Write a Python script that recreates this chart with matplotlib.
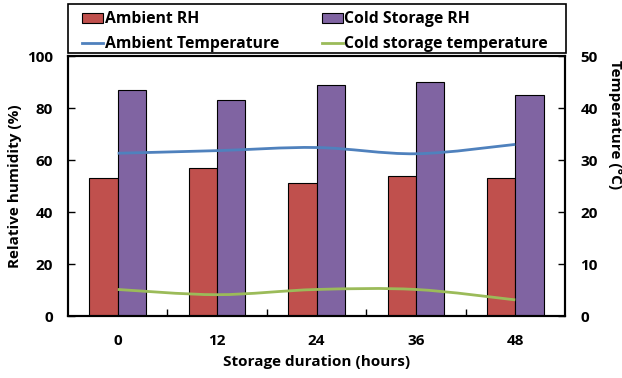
import matplotlib.pyplot as plt
import numpy as np
from matplotlib.path import Path
from matplotlib.patches import PathPatch, Rectangle
from matplotlib.lines import Line2D

plt.rcParams['font.family'] = ['Open Sans', 'DejaVu Sans']
plt.rcParams['font.weight'] = 'bold'

# storage data
hours = ['0', '12', '24', '36', '48']
ambient_rh = [53, 57, 51, 54, 53]
cold_rh = [87, 83, 89, 90, 85]
ambient_temp = [31.3, 31.8, 32.4, 31.2, 33.0]
cold_temp = [5.1, 4.1, 5.1, 5.1, 3.1]

red = '#C0504D'
purple = '#8064A2'
blue = '#4F81BD'
green = '#9BBB59'


def smooth_path(xs, ys):
    # cubic bezier through the points (catmull-rom style tangents)
    xs = np.asarray(xs, float)
    ys = np.asarray(ys, float)
    n = len(xs)
    verts = [(xs[0], ys[0])]
    codes = [Path.MOVETO]
    for i in range(n - 1):
        p0 = i - 1 if i > 0 else i
        p3 = i + 2 if i + 2 < n else i + 1
        c1 = (xs[i] + (xs[i + 1] - xs[p0]) / 6, ys[i] + (ys[i + 1] - ys[p0]) / 6)
        c2 = (xs[i + 1] - (xs[p3] - xs[i]) / 6, ys[i + 1] - (ys[p3] - ys[i]) / 6)
        verts += [c1, c2, (xs[i + 1], ys[i + 1])]
        codes += [Path.CURVE4] * 3
    return Path(verts, codes)


fs = 11
W, H = 622, 378
fig = plt.figure(figsize=(W / 100, H / 100), dpi=100)
ax = fig.add_axes([68 / W, 62 / H, 497 / W, 260 / H])

x = np.arange(len(hours))
w = 0.285
b1 = ax.bar(x - w / 2, ambient_rh, w, color=red, edgecolor='black', linewidth=0.8, zorder=2)
b2 = ax.bar(x + w / 2, cold_rh, w, color=purple, edgecolor='black', linewidth=0.8, zorder=2)

ax.set_xlim(-0.5, len(hours) - 0.5)
ax.set_ylim(0, 100)
ax.set_yticks(range(0, 101, 20))
ax.set_xticks(x)
ax.set_xticklabels(hours)
ax.set_xticks(np.arange(0.5, len(hours) - 1, 1), minor=True)
ax.tick_params(axis='x', which='major', length=0, pad=13, labelsize=fs)
ax.tick_params(axis='x', which='minor', direction='in', length=5, width=1)
ax.tick_params(axis='y', direction='in', length=5, width=1, labelsize=fs, pad=11)
ax.set_xlabel('Storage duration (hours)', fontsize=fs, fontweight='bold', labelpad=5)
ax.set_ylabel('Relative humidity (%)', fontsize=fs, fontweight='bold', va='center')
ax.yaxis.set_label_coords(-53 / 497, 0.5)

ax2 = ax.twinx()
ax2.set_ylim(0, 50)
ax2.set_yticks(range(0, 51, 10))
ax2.tick_params(axis='y', direction='in', length=5, width=1, labelsize=fs, pad=11)
ax2.set_ylabel('Temperature (°C)', fontsize=fs, fontweight='bold', rotation=270, va='center')
ax2.yaxis.set_label_coords(547 / 497, 0.735)

ax2.add_patch(PathPatch(smooth_path(x, ambient_temp), fill=False, edgecolor=blue, lw=2, zorder=3))
ax2.add_patch(PathPatch(smooth_path(x, cold_temp), fill=False, edgecolor=green, lw=2, zorder=3))

for a in (ax, ax2):
    for s in a.spines.values():
        s.set_linewidth(1.5)

# legend in two columns with a plain box around it
handles = [b1, Line2D([], [], color=blue, lw=2), b2, Line2D([], [], color=green, lw=2)]
labels = ['Ambient RH', 'Ambient Temperature', 'Cold Storage RH', 'Cold storage temperature']
leg = fig.legend(handles, labels, ncol=2, loc='center', mode='expand',
                 bbox_to_anchor=(82 / W, (H - 55) / H, 466 / W, 47 / H),
                 fontsize=11.3, frameon=False, borderpad=0, labelspacing=0.55,
                 handlelength=1.35, handletextpad=0.1, handleheight=0.6, borderaxespad=0)
fig.add_artist(Rectangle((68 / W, (H - 53) / H), 498 / W, 49 / H, transform=fig.transFigure,
                         fill=False, edgecolor='black', lw=1.2))

fig.savefig('out.png', dpi=100)
